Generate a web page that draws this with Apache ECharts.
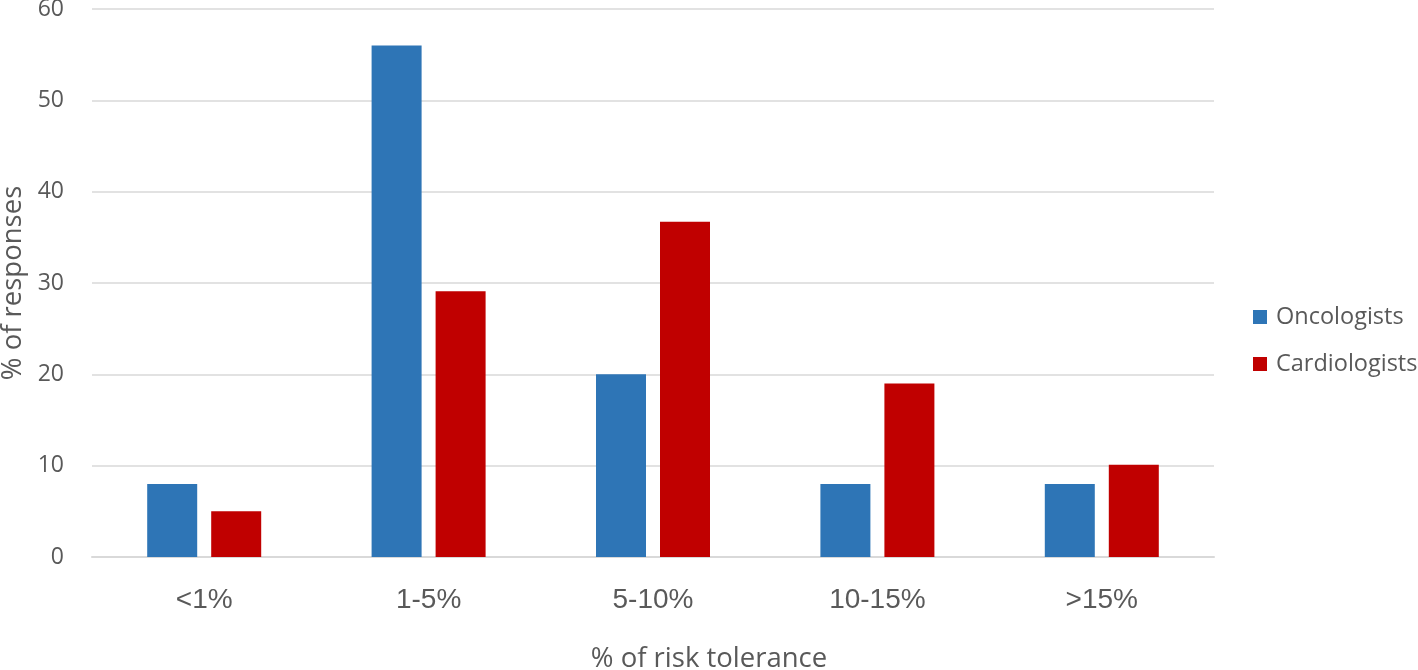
<!DOCTYPE html>
<html><head><meta charset="utf-8">
<script src="https://cdn.jsdelivr.net/npm/echarts@6/dist/echarts.min.js"></script>
<style>html,body{margin:0;padding:0;background:#fff}#c{width:1418px;height:670px}</style>
</head><body><div id="c"></div>
<script>
const categories = ['<1%', '1-5%', '5-10%', '10-15%', '>15%'];
const oncologists = [8, 56, 20, 8, 8];
const cardiologists = [5, 29.1, 36.7, 19, 10.1];
const yTicks = [0, 10, 20, 30, 40, 50, 60];
const xTitle = '% of risk tolerance';
const yTitle = '% of responses';

const chart = echarts.init(document.getElementById('c'));
const font = 'Open Sans';
chart.setOption({
  animation: false,
  textStyle: { fontFamily: font },
  title: {
    text: xTitle, left: 'center', top: 645, padding: 0,
    textStyle: { fontSize: 27.5, color: '#595959', fontWeight: 'normal', fontFamily: font }
  },
  grid: { left: 92, right: 204, top: 9, bottom: 113, outerBoundsMode: 'none', containLabel: false },
  legend: {
    orient: 'vertical', left: 1253, top: 305, itemWidth: 14, itemHeight: 14,
    itemGap: 23, icon: 'rect', padding: 0,
    textStyle: { fontSize: 23.5, color: '#595959', fontFamily: font, padding: [0, 0, 0, 4] },
    data: ['Oncologists', 'Cardiologists']
  },
  xAxis: {
    type: 'category', data: categories,
    axisLine: { lineStyle: { color: '#d9d9d9', width: 2 } },
    axisTick: { show: false },
    axisLabel: { fontSize: 28, color: '#595959', margin: 29, fontFamily: 'Liberation Sans' }
  },
  yAxis: {
    type: 'value', min: yTicks[0], max: yTicks[yTicks.length - 1], interval: 10,
    axisLine: { show: false }, axisTick: { show: false },
    splitLine: { lineStyle: { color: '#d9d9d9', width: 1.5 } },
    axisLabel: { fontSize: 23, color: '#595959', margin: 28, fontFamily: font },
    name: yTitle, nameLocation: 'middle', nameGap: 61,
    nameTextStyle: { fontSize: 27.5, color: '#595959', fontFamily: font }
  },
  series: [
    { name: 'Oncologists', type: 'bar', data: oncologists, barWidth: 50, barGap: '28%',
      itemStyle: { color: '#2E75B6' } },
    { name: 'Cardiologists', type: 'bar', data: cardiologists, barWidth: 50,
      itemStyle: { color: '#C00000' } }
  ]
});
</script></body></html>
